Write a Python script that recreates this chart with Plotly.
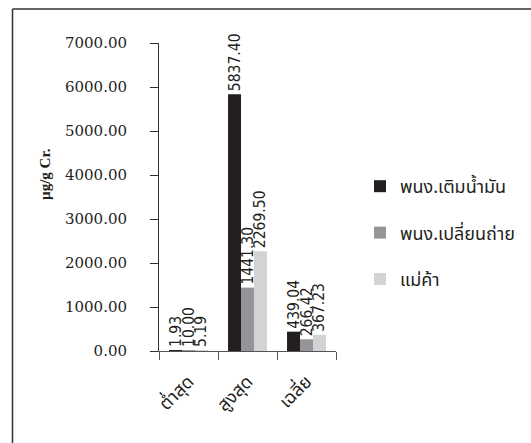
import plotly.graph_objects as go

# Chromium concentration summary (µg/g creatinine) by worker group
categories = ["ต่ำสุด", "สูงสุด", "เฉลี่ย"]
series_names = ["พนง.เติมน้ำมัน", "พนง.เปลี่ยนถ่าย", "แม่ค้า"]
fuel_attendant = [1.93, 5837.40, 439.04]
oil_changer = [10.00, 1441.30, 266.42]
vendor = [5.19, 2269.50, 367.23]
series_colors = ["#231f20", "#939598", "#d1d3d4"]
y_ticks = [0, 1000, 2000, 3000, 4000, 5000, 6000, 7000]

W, H = 531, 443
L, R, T, B = 159, 195, 43, 92
plot_w = W - L - R
plot_h = H - T - B

fig = go.Figure()
for i, (name, vals) in enumerate(zip(series_names, [fuel_attendant, oil_changer, vendor])):
    fig.add_trace(go.Bar(
        x=categories, y=vals, name=name,
        marker=dict(color=series_colors[i], line=dict(width=0)),
        texttemplate="%{y:.2f}", textposition="outside", textangle=-90,
        constraintext="none", cliponaxis=False,
        textfont=dict(family="DejaVu Sans Condensed", size=15.5, color="#231f20"),
        legendgroup=f"g{i}",
    ))

tick_serif = "DejaVu Serif"
title_serif = "Liberation Serif"
thai = "Noto Sans Thai, Loma, Tlwg Typo, Garuda, sans-serif"

def px_x(p):
    return (p - L) / plot_w

def px_y(p):
    return (H - B - p) / plot_h

fig.update_layout(
    width=W, height=H,
    margin=dict(l=L, r=R, t=T, b=B, autoexpand=False),
    paper_bgcolor="white", plot_bgcolor="white",
    barmode="group", bargap=0.34, bargroupgap=0,
    showlegend=True,
    legend=dict(x=px_x(360), y=px_y(168), xanchor="left", yanchor="top",
                font=dict(family=thai, size=18, color="#231f20"),
                tracegroupgap=20, traceorder="grouped",
                itemwidth=30, bgcolor="rgba(0,0,0,0)"),
    xaxis=dict(
        showline=True, linecolor="#555555", linewidth=1,
        ticks="outside", ticklen=8, tickcolor="#555555", tickson="boundaries",
        tickangle=-45, ticklabelstandoff=12,
        tickfont=dict(family=thai, size=18, color="#231f20"),
        showgrid=False, zeroline=False,
    ),
    yaxis=dict(
        range=[0, 7000], tickvals=y_ticks,
        ticktext=[f"{v:.2f}" for v in y_ticks],
        showline=True, linecolor="#333333", linewidth=1,
        ticks="outside", ticklen=8, tickcolor="#333333",
        ticklabelstandoff=20,
        tickfont=dict(family=tick_serif, size=15, color="#231f20"),
        showgrid=False, zeroline=False,
    ),
    annotations=[dict(
        text="<b>µg/g Cr.</b>", textangle=-90,
        xref="paper", yref="paper", x=px_x(45), y=px_y(174),
        xanchor="center", yanchor="middle",
        showarrow=False, font=dict(family=title_serif, size=15, color="#231f20"),
    )],
    shapes=[
        dict(type="line", xref="paper", yref="paper",
             x0=px_x(12.5), x1=px_x(W + 5), y0=px_y(9), y1=px_y(9),
             line=dict(color="#333333", width=1.5)),
        dict(type="line", xref="paper", yref="paper",
             x0=px_x(12.5), x1=px_x(12.5), y0=px_y(9), y1=px_y(H + 5),
             line=dict(color="#333333", width=1.5)),
    ],
)

fig.write_html("out.html")
